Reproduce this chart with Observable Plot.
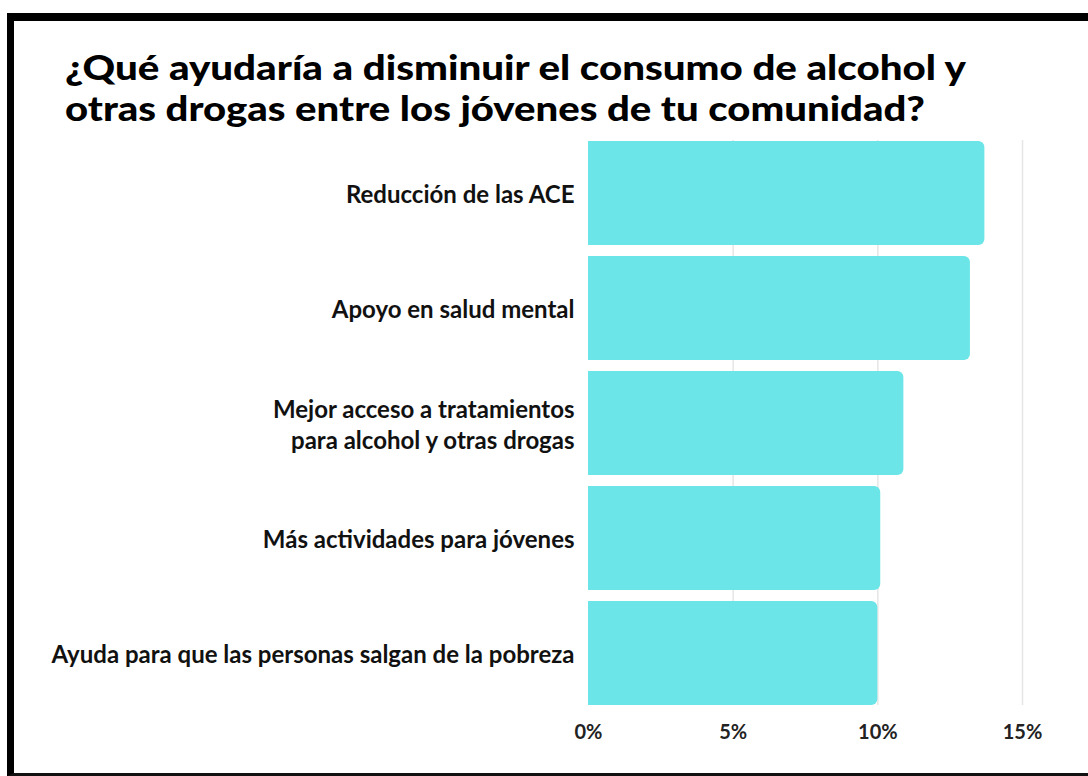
<!DOCTYPE html>
<html><head><meta charset="utf-8">
<script src="https://cdn.jsdelivr.net/npm/d3@7"></script>
<script src="https://cdn.jsdelivr.net/npm/@observablehq/plot@0.6"></script>
<style>
html,body{margin:0;padding:0;background:#fff;overflow:hidden;}
#page{position:relative;width:1088px;height:776px;overflow:hidden;background:#fff;}
#frame{position:absolute;left:7px;top:13px;width:1200px;height:763px;border-left:7px solid #000;border-top:8px solid #000;border-bottom:3px solid #111;box-sizing:border-box;}
#title{position:absolute;left:65px;top:46px;font-family:Lato,"Open Sans",sans-serif;font-weight:900;font-size:34px;line-height:41px;color:#000;}
#title span{display:inline-block;white-space:nowrap;transform-origin:0 50%;}
#chart{position:absolute;left:0;top:130px;}
</style></head>
<body>
<div id="page">
  <div id="frame"></div>
  <div id="title"><span id="t1">¿Qué ayudaría a disminuir el consumo de alcohol y</span><br><span id="t2">otras drogas entre los jóvenes de tu comunidad?</span></div>
  <div id="chart"></div>
</div>
<script>
const categories = [
  "Reducción de las ACE",
  "Apoyo en salud mental",
  "Mejor acceso a tratamientos\npara alcohol y otras drogas",
  "Más actividades para jóvenes",
  "Ayuda para que las personas salgan de la pobreza"
];
const values = [13.7, 13.2, 10.9, 10.1, 10.0];
const xTicks = [0, 5, 10, 15];
const gridTicks = [5, 10, 15];
const barColor = "#6ce5e8";

const data = categories.map((c, i) => ({cat: c, v: values[i]}));

const chart = Plot.plot({
  width: 1088, height: 646,
  marginLeft: 588, marginRight: 66, marginTop: 10, marginBottom: 71,
  x: {domain: [0, 15]},
  y: {domain: categories, paddingInner: 0.1, paddingOuter: 0},
  style: {fontFamily: "Lato, 'Open Sans', sans-serif", background: "transparent"},
  marks: [
    Plot.ruleX(gridTicks, {stroke: "#e6e6e6", strokeWidth: 1.5}),
    Plot.barX(data, {x: "v", y: "cat", fill: barColor, rx: 6}),
    Plot.barX(data, {x1: 0, x2: d => d.v / 2, y: "cat", fill: barColor}),
    Plot.axisX({ticks: xTicks, tickFormat: d => d + "%", tickSize: 0, tickPadding: 19, fontSize: 20, fontWeight: "bold", color: "#222", label: null}),
    Plot.axisY({tickSize: 0, tickPadding: 14, fontSize: 24, fontWeight: "bold", lineHeight: 1.3, color: "#111", label: null})
  ]
});
document.getElementById("chart").appendChild(chart);

function fitTitle() {
  const t1 = document.getElementById("t1"), t2 = document.getElementById("t2");
  t1.style.transform = ""; t2.style.transform = "";
  const w1 = t1.getBoundingClientRect().width;
  const w2 = t2.getBoundingClientRect().width;
  t1.style.transform = `scaleX(${901 / w1})`;
  t2.style.transform = `scaleX(${860 / w2})`;
}
fitTitle();
if (document.fonts && document.fonts.ready) document.fonts.ready.then(fitTitle);
</script>
</body></html>
